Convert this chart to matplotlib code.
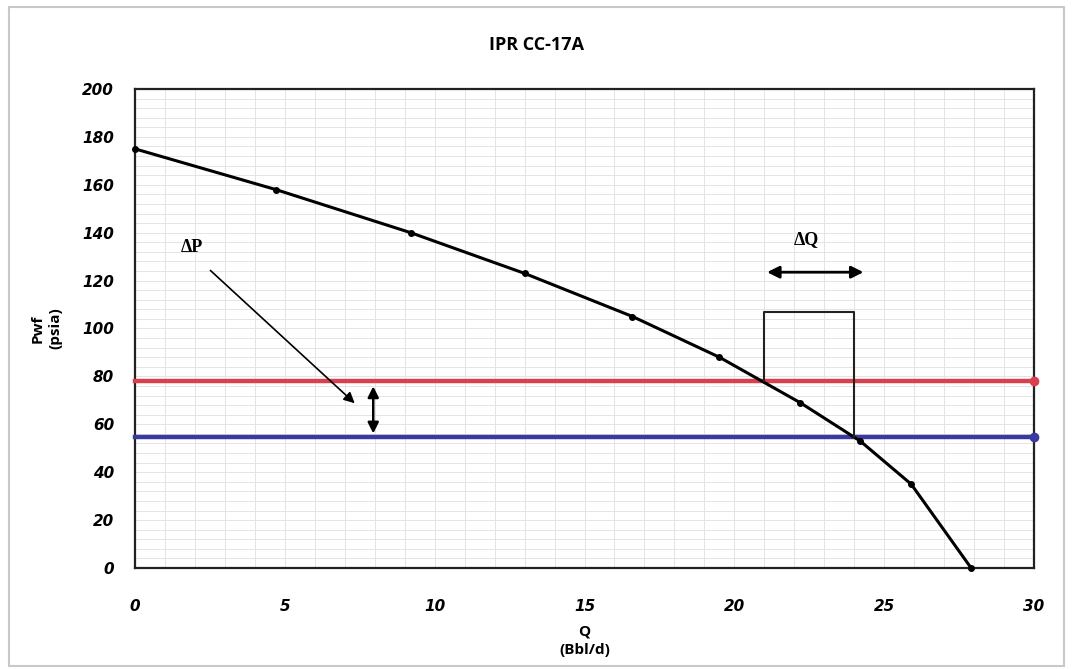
import matplotlib

matplotlib.use("Agg")

import matplotlib.pyplot as plt
from matplotlib.patches import FancyArrowPatch, Rectangle
from matplotlib.ticker import MultipleLocator

# IPR curve points
q_ipr = [0.0, 4.7, 9.2, 13.0, 16.6, 19.5, 22.2, 24.2, 25.9, 27.9]
pwf_ipr = [175.0, 158.0, 140.0, 123.0, 105.0, 88.0, 69.0, 53.0, 35.0, 0.0]

# operating pressures
p_red = 78.0
p_blue = 54.5

# delta-Q box
q_box = [21.0, 24.0]
p_box_top = 107.0

x_ticks = [0, 5, 10, 15, 20, 25, 30]
y_ticks = [0, 20, 40, 60, 80, 100, 120, 140, 160, 180, 200]

fig = plt.figure(figsize=(10.73, 6.69), dpi=100)
fig.patches.append(Rectangle((0.008, 0.005), 0.984, 0.985, transform=fig.transFigure,
                             fill=False, edgecolor="#c8c8c8", linewidth=1.5))
ax = fig.add_axes([0.1258, 0.151, 0.8379, 0.716])

ax.set_xlim(0, 30)
ax.set_ylim(0, 200)
ax.set_xticks(x_ticks)
ax.set_yticks(y_ticks)
ax.xaxis.set_minor_locator(MultipleLocator(1))
ax.yaxis.set_minor_locator(MultipleLocator(4))
ax.grid(which="both", color="#e4e4e4", linewidth=0.7)
ax.set_axisbelow(True)
ax.tick_params(which="both", length=0)
for s in ax.spines.values():
    s.set_linewidth(1.6)
    s.set_color("#222222")

tick_font = dict(family="DejaVu Sans", weight="bold", style="italic", size=11)
ax.set_xticklabels([str(t) for t in x_ticks], **tick_font)
ax.set_yticklabels([str(t) for t in y_ticks], **tick_font)
ax.tick_params(axis="x", pad=22)
ax.tick_params(axis="y", pad=15)

fig.text(0.5, 0.932, "IPR CC-17A", fontfamily="Open Sans", fontweight="bold",
         fontsize=13, ha="center", va="center")
ax.set_xlabel("Q\n(Bbl/d)", fontfamily="Open Sans", fontweight="bold", fontsize=11,
              linespacing=1.4, labelpad=8)
ax.set_ylabel("Pwf\n(psia)", fontfamily="Open Sans", fontweight="bold", fontsize=11,
              linespacing=1.4, labelpad=14)

ax.plot([0, 30], [p_red, p_red], color="#d8404e", linewidth=3.2, marker="o",
        markersize=6, markevery=[1], zorder=3, clip_on=False)
ax.plot([0, 30], [p_blue, p_blue], color="#3a3a9e", linewidth=3.2, marker="o",
        markersize=6, markevery=[1], zorder=3, clip_on=False)

ax.plot(q_ipr, pwf_ipr, color="black", linewidth=2.2, marker="o", markersize=4,
        zorder=4, clip_on=False)

# box marking delta Q
ax.plot([q_box[0], q_box[0], q_box[1], q_box[1]], [p_red, p_box_top, p_box_top, p_blue],
        color="#222222", linewidth=1.5, zorder=4)

# delta Q double arrow and label
ax.add_patch(FancyArrowPatch((21.0, 123.5), (24.4, 123.5), arrowstyle="<|-|>",
                             mutation_scale=18, color="black", linewidth=2, zorder=5))
ax.text(22.4, 137, "ΔQ", fontfamily="Liberation Serif", fontweight="bold", fontsize=13,
        ha="center", va="center")

# delta P label, pointer and double arrow
ax.text(1.9, 134, "ΔP", fontfamily="Liberation Serif", fontweight="bold", fontsize=13,
        ha="center", va="center")
ax.add_patch(FancyArrowPatch((2.45, 125), (7.4, 68), arrowstyle="-|>",
                             mutation_scale=16, color="black", linewidth=1.2, zorder=5))
ax.add_patch(FancyArrowPatch((7.95, p_red - 1), (7.95, p_blue + 0.5), arrowstyle="<|-|>",
                             mutation_scale=16, color="black", linewidth=1.8, zorder=5))

fig.savefig("out.png", dpi=100)
